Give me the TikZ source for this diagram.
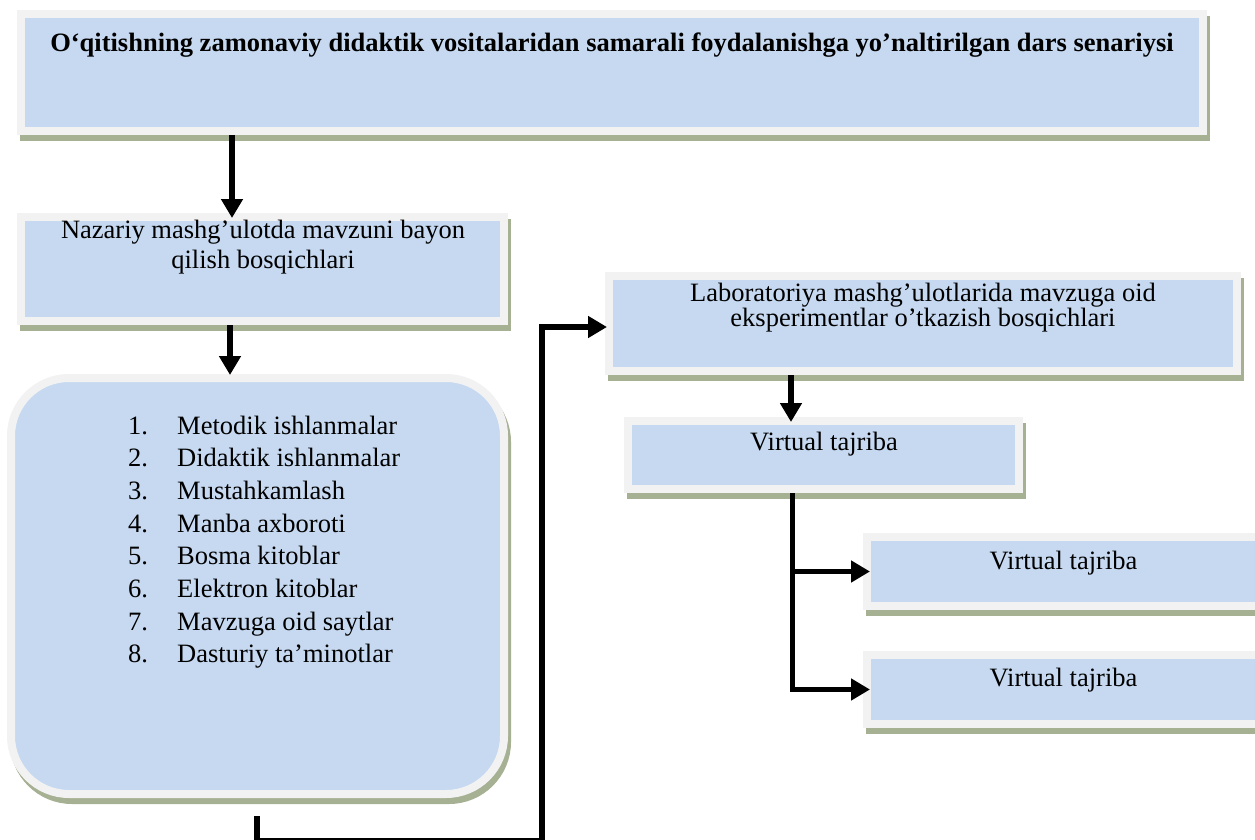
\documentclass[tikz,border=0pt]{standalone}
\usepackage{fontspec}
\setmainfont{Liberation Serif}
\usetikzlibrary{arrows.meta}
\definecolor{boxblue}{HTML}{C6D9F1}
\definecolor{framegrey}{HTML}{F2F2F2}
\definecolor{shadowcol}{RGB}{166,176,146}
\tikzset{
  panel/.style={rectangle, fill=boxblue, draw=framegrey, line width=8pt, inner sep=0pt,
    preaction={draw=shadowcol, fill=shadowcol, line width=8pt,
      transform canvas={xshift=3pt,yshift=-6pt}}},
  txt/.style={inner sep=0pt, font=\fontsize{26.5}{30}\selectfont, text=black},
  arr/.style={line width=5.5pt, line join=miter, draw=black,
    -{Triangle[length=19pt,width=21pt]}}
}
\begin{document}
\begin{tikzpicture}[x=1pt,y=-1pt]
\useasboundingbox (0,0) rectangle (1255,840);
\clip (0,0) rectangle (1255,840);
\fill[white] (0,0) rectangle (1255,840);

% boxes
\node[panel, minimum width=1182pt, minimum height=117pt] (top) at (612,72.5) {};
\node[panel, minimum width=483pt, minimum height=104pt] (naz) at (262.5,269) {};
\node[panel, rounded corners=58pt, minimum width=493pt, minimum height=416pt] (res) at (257.5,586) {};
\node[panel, minimum width=628pt, minimum height=95pt] (lab) at (923,323.5) {};
\node[panel, minimum width=391pt, minimum height=68pt] (virt) at (823.5,455) {};
\node[panel, minimum width=423pt, minimum height=69pt] (va) at (1078.5,571.5) {};
\node[panel, minimum width=423pt, minimum height=69pt] (vb) at (1078.5,689.5) {};

% texts
\node[txt, anchor=base] (toptext) at (612,52) {\bfseries O‘qitishning zamonaviy didaktik vositalaridan samarali foydalanishga yo’naltirilgan dars senariysi};
\node[txt, anchor=base] (naztext) at (263,238) {\parbox[t]{480pt}{\centering\fontsize{26.5}{30}\selectfont Nazariy mashg’ulotda mavzuni bayon\\ qilish bosqichlari}};
\node[txt, anchor=base west] (listtext) at (128,434) {\parbox[t]{340pt}{\raggedright\fontsize{26.5}{32.7}\selectfont
\makebox[49pt][l]{1.}Metodik ishlanmalar\\
\makebox[49pt][l]{2.}Didaktik ishlanmalar\\
\makebox[49pt][l]{3.}Mustahkamlash\\
\makebox[49pt][l]{4.}Manba axboroti\\
\makebox[49pt][l]{5.}Bosma kitoblar\\
\makebox[49pt][l]{6.}Elektron kitoblar\\
\makebox[49pt][l]{7.}Mavzuga oid saytlar\\
\makebox[49pt][l]{8.}Dasturiy ta’minotlar}};
\node[txt, anchor=base] (labtext) at (923,301) {\parbox[t]{620pt}{\centering\fontsize{26.5}{25}\selectfont\lineskiplimit=-100pt Laboratoriya mashg’ulotlarida mavzuga oid\\ eksperimentlar o’tkazish bosqichlari}};
\node[txt, anchor=base] (virttext) at (824,450) {Virtual tajriba};
\node[txt, anchor=base] (vatext) at (1063.5,569) {Virtual tajriba};
\node[txt, anchor=base] (vbtext) at (1063.5,686) {Virtual tajriba};

% connectors
\draw[arr, shorten >=-5pt] ([xshift=-380pt]top.south) -- ([xshift=-30.5pt]naz.north);
\draw[arr, shorten >=-1pt] ([xshift=-32.5pt]naz.south) -- ([xshift=-27.5pt]res.north);
\coordinate (cstart) at (257,816);
\coordinate (cturn) at (542,840.5);
\draw[arr, shorten >=-2pt] (cstart) -- (cstart |- cturn) -- (cturn) |- ([yshift=-3.5pt]lab.west);
\draw[arr, shorten >=-5pt] ([xshift=-132pt]lab.south) -- ([xshift=-32.5pt]virt.north);
\draw[arr, shorten >=-7pt] ([xshift=-31pt]virt.south) |- (va.west);
\draw[arr, shorten >=-7pt] ([xshift=-31pt]virt.south) |- (vb.west);
\end{tikzpicture}
\end{document}
